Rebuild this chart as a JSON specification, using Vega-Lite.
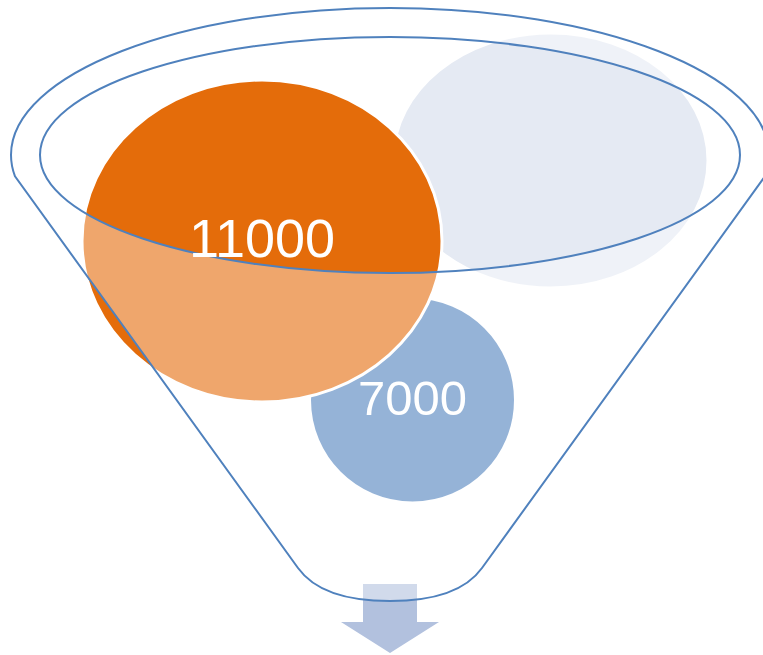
{
  "$schema": "https://vega.github.io/schema/vega-lite/v6.json",
  "width": 763,
  "height": 655,
  "padding": 0,
  "autosize": {"type": "none"},
  "background": "white",
  "config": {"view": {"stroke": null}},
  "datasets": {
    "items": [
      {"item": "C", "value": null, "x": 550.5, "y": 160.5},
      {"item": "B", "value": 7000, "x": 412.5, "y": 400},
      {"item": "A", "value": 11000, "x": 262, "y": 241}
    ],
    "parts": [
      {"part": "arrow", "x": 390, "y": 618},
      {"part": "funnel", "x": 390, "y": 155}
    ]
  },
  "layer": [
    {
      "data": {"name": "items"},
      "mark": {"type": "point", "filled": true, "size": 4, "opacity": 1, "stroke": "white", "strokeWidth": 3},
      "encoding": {
        "x": {"field": "x", "type": "quantitative", "scale": {"domain": [0, 763]}, "axis": null},
        "y": {"field": "y", "type": "quantitative", "scale": {"domain": [0, 655], "reverse": true}, "axis": null},
        "shape": {
          "field": "item", "type": "nominal", "legend": null,
          "scale": {
            "domain": ["A", "B", "C"],
            "range": [
              "M-180,0C-180,-88.92 -99.41,-161 0,-161C99.41,-161 180,-88.92 180,0C180,88.92 99.41,161 0,161C-99.41,161 -180,88.92 -180,0Z",
              "M-103,0C-103,-56.89 -56.89,-103 0,-103C56.89,-103 103,-56.89 103,0C103,56.89 56.89,103 0,103C-56.89,103 -103,56.89 -103,0Z",
              "M-157.5,0C-157.5,-70.42 -86.99,-127.5 0,-127.5C86.99,-127.5 157.5,-70.42 157.5,0C157.5,70.42 86.99,127.5 0,127.5C-86.99,127.5 -157.5,70.42 -157.5,0Z"
            ]
          }
        },
        "fill": {
          "field": "item", "type": "nominal", "legend": null,
          "scale": {"domain": ["A", "B", "C"], "range": ["#E46C0A", "#4F81BD", "#E5EAF3"]}
        }
      }
    },
    {
      "data": {"name": "parts"},
      "transform": [{"filter": "datum.part === 'arrow'"}],
      "mark": {
        "type": "point", "filled": true, "size": 4, "opacity": 1, "fill": "#B2C1DE", "strokeWidth": 0,
        "shape": "M-27,-34L27,-34L27,4L49,4L0,35L-49,4L-27,4Z"
      },
      "encoding": {
        "x": {"field": "x", "type": "quantitative", "scale": {"domain": [0, 763]}, "axis": null},
        "y": {"field": "y", "type": "quantitative", "scale": {"domain": [0, 655], "reverse": true}, "axis": null}
      }
    },
    {
      "data": {"name": "parts"},
      "transform": [{"filter": "datum.part === 'funnel'"}],
      "mark": {
        "type": "point", "filled": true, "size": 4, "opacity": 1,
        "fill": "white", "fillOpacity": 0.4, "stroke": "#4F81BD", "strokeOpacity": 1, "strokeWidth": 2,
        "shape": "M-375,21.3C-377.7,14.25 -379,7.13 -379,0C-379,-81.19 -209.3,-147 0,-147C209.3,-147 379,-81.19 379,0C379,7.13 377.7,14.25 375,21.3L92,413C72,441 30,446 0,446C-30,446 -72,441 -92,413ZM-350,0C-350,65.17 -193.3,118 0,118C193.3,118 350,65.17 350,0C350,-65.17 193.3,-118 0,-118C-193.3,-118 -350,-65.17 -350,0Z"
      },
      "encoding": {
        "x": {"field": "x", "type": "quantitative", "scale": {"domain": [0, 763]}, "axis": null},
        "y": {"field": "y", "type": "quantitative", "scale": {"domain": [0, 655], "reverse": true}, "axis": null}
      }
    },
    {
      "data": {"name": "items"},
      "transform": [{"filter": "datum.value != null"}],
      "mark": {"type": "text", "fill": "white", "font": "Liberation Sans", "align": "center", "baseline": "middle"},
      "encoding": {
        "x": {"field": "x", "type": "quantitative", "scale": {"domain": [0, 763]}, "axis": null},
        "y": {"field": "y", "type": "quantitative", "scale": {"domain": [0, 655], "reverse": true}, "axis": null},
        "text": {"field": "value", "type": "quantitative", "format": "d"},
        "size": {"field": "item", "type": "nominal", "legend": null, "scale": {"domain": ["A", "B"], "range": [54, 49]}}
      }
    }
  ]
}
